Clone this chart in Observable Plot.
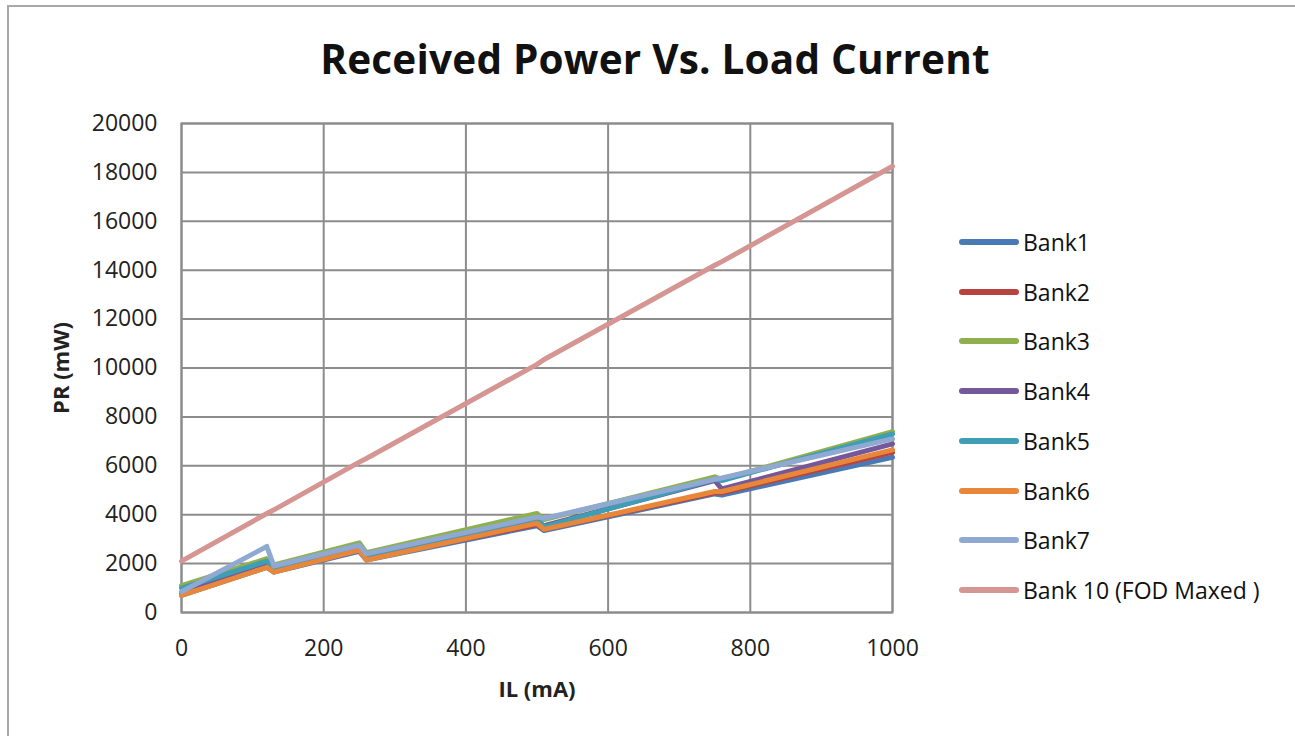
<!DOCTYPE html>
<html>
<head>
<meta charset="utf-8">
<script src="https://cdn.jsdelivr.net/npm/d3@7"></script>
<script src="https://cdn.jsdelivr.net/npm/@observablehq/plot@0.6"></script>
<style>
  html, body { margin: 0; padding: 0; background: #fff; overflow: hidden; }
  #wrap { position: relative; width: 1295px; height: 736px; overflow: hidden; font-family: "Open Sans", sans-serif; }
  #border { position: absolute; left: 7px; top: 5px; width: 1400px; height: 900px; border: 2px solid #a8a8a8; box-sizing: border-box; }
  #title { position: absolute; left: 0; width: 1310px; top: 35px; text-align: center; font-weight: bold; font-size: 40.5px; color: #111; letter-spacing: 0.2px; line-height: 1.2; }
  #chart { position: absolute; left: 0; top: 0; }
  #legend { position: absolute; left: 958px; top: 0; }
  .item { position: absolute; left: 0; height: 30px; display: flex; align-items: center; white-space: nowrap; font-size: 23px; color: #111; }
  .item svg { margin-right: 3px; }
  #chart svg [aria-label="x-axis label"] text, #chart svg [aria-label="y-axis label"] text { font-weight: bold; font-size: 22px; }
</style>
</head>
<body>
<div id="wrap">
  <div id="border"></div>
  <div id="chart"></div>
  <div id="title">Received Power Vs. Load Current</div>
  <div id="legend"></div>
</div>
<script>
// Load current (mA)
const loadCurrent = [0, 120, 130, 250, 260, 500, 510, 750, 760, 1000];
// Received power (mW) per bank
const bank1  = [700, 1850, 1650, 2500, 2150, 3550, 3350, 4850, 4800, 6350];
const bank2  = [750, 1900, 1700, 2550, 2200, 3600, 3400, 4900, 4900, 6550];
const bank3  = [1100, 2200, 1950, 2850, 2450, 4050, 3800, 5550, 5450, 7400];
const bank4  = [800, 1950, 1750, 2600, 2250, 3700, 3550, 5400, 5050, 6900];
const bank5  = [1000, 2100, 1850, 2750, 2350, 3850, 3500, 5450, 5400, 7300];
const bank6  = [700, 1850, 1650, 2550, 2150, 3650, 3400, 4950, 4950, 6650];
const bank7  = [850, 2700, 1900, 2750, 2400, 3900, 3850, 5450, 5500, 7100];
const bank10 = [2100, 4050, 4200, 6150, 6300, 10150, 10350, 14200, 14350, 18250];

const seriesNames  = ["Bank1", "Bank2", "Bank3", "Bank4", "Bank5", "Bank6", "Bank7", "Bank 10 (FOD Maxed )"];
const seriesValues = [bank1, bank2, bank3, bank4, bank5, bank6, bank7, bank10];
const seriesColors = ["#4a7ab5", "#b9433f", "#8fb04e", "#75589a", "#3f9db5", "#e8863a", "#8fa9d2", "#d59593"];

const xTicks = [0, 200, 400, 600, 800, 1000];
const yTicks = [0, 2000, 4000, 6000, 8000, 10000, 12000, 14000, 16000, 18000, 20000];

const rows = seriesNames.flatMap((name, i) =>
  loadCurrent.map((x, j) => ({ series: name, x, y: seriesValues[i][j] })));

const gridColor = "#8c8c8c";

const chart = Plot.plot({
  width: 1295,
  height: 736,
  marginLeft: 181,
  marginRight: 403,
  marginTop: 123,
  marginBottom: 124,
  style: { fontFamily: "Open Sans", fontSize: "23px", color: "#222", background: "transparent" },
  x: { domain: [0, 1000], ticks: xTicks, tickFormat: d => String(d), tickSize: 0, tickPadding: 27, label: "IL (mA)", labelArrow: "none", labelAnchor: "center", labelOffset: 84 },
  y: { domain: [0, 20000], ticks: yTicks, tickFormat: d => String(d), tickSize: 0, tickPadding: 24, label: "PR (mW)", labelArrow: "none", labelAnchor: "center", labelOffset: 128 },
  color: { domain: seriesNames, range: seriesColors },
  marks: [
    Plot.ruleX(xTicks, { stroke: gridColor, strokeWidth: 2 }),
    Plot.ruleY(yTicks, { stroke: gridColor, strokeWidth: 2 }),
    Plot.frame({ stroke: gridColor, strokeWidth: 2 }),
    Plot.line(rows, { x: "x", y: "y", z: "series", stroke: "series", strokeWidth: 5, strokeLinejoin: "round", strokeLinecap: "round" })
  ]
});
document.getElementById("chart").appendChild(chart);

// Legend
const legend = document.getElementById("legend");
seriesNames.forEach((name, i) => {
  const item = document.createElement("div");
  item.className = "item";
  item.style.top = (242 + i * 49.7 - 15) + "px";
  item.innerHTML = `<svg width="62" height="10"><line x1="4" y1="5" x2="58" y2="5" stroke="${seriesColors[i]}" stroke-width="6" stroke-linecap="round"/></svg><span>${name}</span>`;
  legend.appendChild(item);
});
</script>
</body>
</html>
